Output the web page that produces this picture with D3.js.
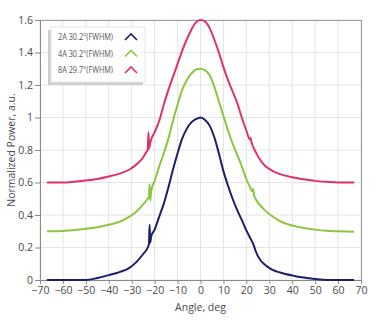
<!DOCTYPE html>
<html>
<head>
<meta charset="utf-8">
<script src="https://cdn.jsdelivr.net/npm/d3@7"></script>
<style>
  html, body { margin: 0; padding: 0; background: #fff; }
  svg { display: block; font-family: "Open Sans", "Noto Sans", sans-serif; }
</style>
</head>
<body>
<svg id="chart" width="383" height="325"></svg>
<script>
// ---- data ----
const seriesNames = ["2A 30.2°(FWHM)", "4A 30.2°(FWHM)", "8A 29.7°(FWHM)"];
const seriesColors = ["#1f1d6d", "#8cc63f", "#e0306e"];

const angles2A = [-67, -60, -50, -45, -40, -35, -31, -28, -25, -23, -22.5, -22.2, -21.9, -21.5, -20, -18, -16, -14, -12, -10, -8, -6, -4, -2, 0, 2, 4, 6, 8, 10, 12, 14, 16, 18, 20, 22, 22.7, 23.2, 24, 26, 28, 31, 35, 40, 45, 50, 55, 60, 67];
const power2A  = [0, 0, 0, 0.012, 0.03, 0.05, 0.075, 0.11, 0.16, 0.2, 0.22, 0.34, 0.23, 0.27, 0.31, 0.39, 0.47, 0.57, 0.68, 0.78, 0.87, 0.93, 0.97, 0.99, 1.0, 0.985, 0.95, 0.88, 0.78, 0.67, 0.58, 0.5, 0.43, 0.37, 0.305, 0.25, 0.23, 0.215, 0.18, 0.125, 0.095, 0.065, 0.045, 0.028, 0.015, 0.006, 0, 0, 0];

const angles4A = [-67, -60, -50, -45, -40, -35, -31, -28, -25, -23, -22.5, -22.2, -21.9, -21.5, -20, -18, -16, -14, -12, -10, -8, -6, -4, -2, 0, 2, 4, 6, 8, 10, 12, 14, 16, 18, 20, 22, 22.5, 23, 23.4, 24, 26, 28, 31, 35, 40, 45, 50, 55, 60, 67];
const power4A  = [0.30, 0.302, 0.315, 0.325, 0.34, 0.36, 0.39, 0.42, 0.465, 0.5, 0.51, 0.59, 0.49, 0.55, 0.61, 0.70, 0.78, 0.87, 0.98, 1.08, 1.17, 1.23, 1.27, 1.295, 1.30, 1.29, 1.26, 1.19, 1.10, 1.01, 0.92, 0.84, 0.77, 0.70, 0.62, 0.56, 0.545, 0.56, 0.52, 0.50, 0.46, 0.43, 0.395, 0.36, 0.335, 0.32, 0.31, 0.303, 0.30, 0.297];

const angles8A = [-67, -60, -55, -50, -45, -40, -35, -31, -28, -25.5, -23.5, -23, -22.7, -22.4, -22, -20, -18, -16, -14, -12, -10, -8, -6, -4, -2, 0, 2, 4, 6, 8, 10, 12, 14, 16, 18, 20, 21.5, 21.8, 22.2, 24, 26, 28, 31, 35, 40, 45, 50, 55, 60, 67];
const power8A  = [0.60, 0.60, 0.605, 0.612, 0.622, 0.637, 0.656, 0.68, 0.71, 0.745, 0.79, 0.80, 0.91, 0.81, 0.84, 0.91, 0.98, 1.08, 1.17, 1.25, 1.33, 1.41, 1.48, 1.54, 1.585, 1.60, 1.59, 1.55, 1.48, 1.40, 1.31, 1.23, 1.16, 1.09, 1.0, 0.92, 0.865, 0.875, 0.85, 0.79, 0.74, 0.705, 0.675, 0.65, 0.632, 0.62, 0.61, 0.604, 0.60, 0.60];

const xTicks = [-70, -60, -50, -40, -30, -20, -10, 0, 10, 20, 30, 40, 50, 60, 70];
const yTicks = [0, 0.2, 0.4, 0.6, 0.8, 1, 1.2, 1.4, 1.6];
const xLabel = "Angle, deg";
const yLabel = "Normalized Power, a.u.";

// ---- layout ----
const svg = d3.select("#chart");
const pL = 40, pR = 361, pT = 20, pB = 280;
const x = d3.scaleLinear().domain([-70, 70]).range([pL, pR]);
const y = d3.scaleLinear().domain([0, 1.6]).range([pB, pT]);

// grid
const grid = svg.append("g");
grid.selectAll(".vg").data(xTicks).enter().append("line")
  .attr("x1", d => x(d)).attr("x2", d => x(d)).attr("y1", pT).attr("y2", pB)
  .attr("stroke", "#e4e4e4").attr("stroke-width", 1);
grid.selectAll(".hg").data(yTicks).enter().append("line")
  .attr("x1", pL).attr("x2", pR).attr("y1", d => y(d)).attr("y2", d => y(d))
  .attr("stroke", "#e4e4e4").attr("stroke-width", 1);

// frame (top/right)
svg.append("line").attr("x1", pL).attr("x2", pR).attr("y1", pT + 0.5).attr("y2", pT + 0.5)
  .attr("stroke", "#9a9a9a");
svg.append("line").attr("x1", pR + 0.5).attr("x2", pR + 0.5).attr("y1", pT).attr("y2", pB)
  .attr("stroke", "#9a9a9a");

// axes
const xAxis = svg.append("g").attr("transform", `translate(0,${pB})`)
  .call(d3.axisBottom(x).tickValues(xTicks).tickSize(4).tickPadding(3).tickFormat(d3.format("d")));
const yAxis = svg.append("g").attr("transform", `translate(${pL},0)`)
  .call(d3.axisLeft(y).tickValues(yTicks).tickSize(5).tickPadding(2).tickFormat(d => String(d)));
[xAxis, yAxis].forEach(a => {
  a.select(".domain").attr("stroke", "#8a8a8a");
  a.selectAll(".tick line").attr("stroke", "#8a8a8a");
  a.selectAll(".tick text").attr("fill", "#4a4a4a").attr("font-size", "10.5px")
    .attr("font-family", "'Open Sans', 'Noto Sans', sans-serif");
});

// axis titles
svg.append("text").attr("x", x(0)).attr("y", 311).attr("text-anchor", "middle")
  .attr("font-size", "10.5px").attr("fill", "#4a4a4a").text(xLabel);
svg.append("text").attr("transform", `translate(15,${(pT + pB) / 2}) rotate(-90)`)
  .attr("text-anchor", "middle").attr("font-size", "10.5px").attr("fill", "#4a4a4a").text(yLabel);

// lines
const allSeries = [
  { a: angles2A, p: power2A },
  { a: angles4A, p: power4A },
  { a: angles8A, p: power8A }
];
const line = d3.line().x(d => x(d[0])).y(d => y(d[1])).curve(d3.curveMonotoneX);
allSeries.forEach((s, i) => {
  const pts = s.a.map((v, k) => [v, s.p[k]]);
  svg.append("path").datum(pts).attr("d", line)
    .attr("fill", "none").attr("stroke", seriesColors[i]).attr("stroke-width", 2)
    .attr("stroke-linejoin", "round");
});

// legend
const lg = svg.append("g");
lg.append("rect").attr("x", 48).attr("y", 30).attr("width", 95).attr("height", 55)
  .attr("fill", "#cfcfcf");
lg.append("rect").attr("x", 51).attr("y", 27).attr("width", 94).attr("height", 55)
  .attr("fill", "#fff").attr("stroke", "#e6e6e6");
seriesNames.forEach((n, i) => {
  const cy = 37 + i * 16.5;
  lg.append("text").attr("x", 58).attr("y", cy + 3).attr("font-size", "8.5px")
    .attr("fill", "#555").attr("textLength", 55).attr("lengthAdjust", "spacingAndGlyphs").text(n);
  lg.append("polyline")
    .attr("points", `125,${cy + 3} 131,${cy - 3} 137,${cy + 3}`)
    .attr("fill", "none").attr("stroke", seriesColors[i]).attr("stroke-width", 1.6);
});
</script>
</body>
</html>
